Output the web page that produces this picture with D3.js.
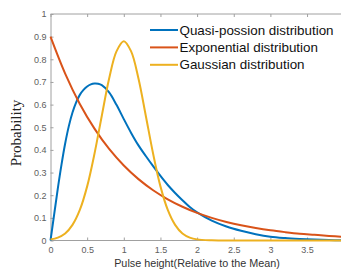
<!DOCTYPE html>
<html>
<head>
<meta charset="utf-8">
<script src="https://cdn.jsdelivr.net/npm/d3@7"></script>
<style>
html,body{margin:0;padding:0;background:#fff;}
svg{display:block;}
</style>
</head>
<body>
<svg id="chart" width="341" height="272"></svg>
<script>
// ---- data ----
const seriesNames = ["Quasi-possion distribution", "Exponential distribution", "Gaussian distribution"];
const seriesColors = ["#0072BD", "#D95319", "#EDB120"];

const quasiX = [0, 0.05, 0.1, 0.15, 0.2, 0.25, 0.3, 0.35, 0.4, 0.45, 0.5, 0.55, 0.6, 0.65, 0.7, 0.8, 0.9, 1.0, 1.1, 1.2, 1.3, 1.4, 1.5, 1.6, 1.7, 1.8, 1.9, 2.0, 2.2, 2.4, 2.6, 2.8, 3.0, 3.2, 3.4, 3.6, 3.8, 4.0];
const quasiY = [0, 0.115, 0.23, 0.335, 0.428, 0.505, 0.565, 0.61, 0.643, 0.665, 0.68, 0.689, 0.693, 0.692, 0.686, 0.654, 0.599, 0.536, 0.475, 0.42, 0.373, 0.328, 0.285, 0.245, 0.21, 0.178, 0.148, 0.124, 0.088, 0.062, 0.043, 0.028, 0.017, 0.011, 0.007, 0.004, 0.002, 0.001];

const expX = [0, 0.2, 0.4, 0.6, 0.8, 1.0, 1.2, 1.4, 1.6, 1.8, 2.0, 2.2, 2.4, 2.6, 2.8, 3.0, 3.2, 3.4, 3.6, 3.8, 4.0];
const expY = [0.900, 0.737, 0.603, 0.494, 0.404, 0.331, 0.271, 0.222, 0.182, 0.149, 0.122, 0.100, 0.082, 0.067, 0.055, 0.045, 0.037, 0.030, 0.025, 0.020, 0.016];

const gaussX = [0, 0.1, 0.2, 0.3, 0.4, 0.5, 0.6, 0.7, 0.8, 0.9, 1.0, 1.1, 1.2, 1.3, 1.4, 1.5, 1.6, 1.7, 1.8, 1.9, 2.0, 2.2, 2.5, 3.0, 3.5, 4.0];
const gaussY = [0.005, 0.013, 0.031, 0.069, 0.135, 0.239, 0.383, 0.551, 0.715, 0.835, 0.88, 0.835, 0.715, 0.551, 0.383, 0.239, 0.135, 0.069, 0.031, 0.013, 0.005, 0.001, 0, 0, 0, 0];

const xTicks = [0, 0.5, 1, 1.5, 2, 2.5, 3, 3.5];
const yTicks = [0, 0.1, 0.2, 0.3, 0.4, 0.5, 0.6, 0.7, 0.8, 0.9, 1];
const xLabel = "Pulse height(Relative to the Mean)";
const yLabel = "Probability";

// ---- layout ----
const svg = d3.select("#chart");
const mLeft = 50.5, mTop = 14, mBottom = 240.5;
const x = d3.scaleLinear().domain([0, 4]).range([mLeft, mLeft + 4 * 73.3]);
const y = d3.scaleLinear().domain([0, 1]).range([mBottom, mTop]);
const axisColor = "#a0a0a0";
const tickTextColor = "#606060";

// top border with inward ticks
const gTop = svg.append("g").attr("transform", `translate(0,${mTop})`)
  .call(d3.axisTop(x).tickValues(xTicks).tickSizeInner(-3).tickSizeOuter(0).tickFormat(""));

// bottom axis
const gX = svg.append("g").attr("transform", `translate(0,${mBottom})`)
  .call(d3.axisBottom(x).tickValues(xTicks).tickSizeInner(-3).tickSizeOuter(0).tickPadding(6.5)
    .tickFormat(d3.format("")));

// left axis
const gY = svg.append("g").attr("transform", `translate(${mLeft},0)`)
  .call(d3.axisLeft(y).tickValues(yTicks).tickSizeInner(-3).tickSizeOuter(0).tickPadding(4)
    .tickFormat(d3.format("")));

[gTop, gX, gY].forEach(g => {
  g.select(".domain").attr("stroke", axisColor).attr("stroke-width", 1);
  g.selectAll(".tick line").attr("stroke", axisColor);
  g.selectAll(".tick text").attr("fill", tickTextColor)
    .style("font-family", "'Liberation Sans', Arial, sans-serif").style("font-size", "9px");
});
gTop.select(".domain").attr("d", `M${mLeft},0H${x(4)}`);
gX.select(".domain").attr("d", `M${mLeft},0H${x(4)}`);

// lines
const line = d3.line().x(d => x(d[0])).y(d => y(d[1])).curve(d3.curveCatmullRom.alpha(0.5));
const series = [
  d3.zip(quasiX, quasiY),
  d3.zip(expX, expY),
  d3.zip(gaussX, gaussY)
];
series.forEach((s, i) => {
  svg.append("path").datum(s)
    .attr("d", line)
    .attr("fill", "none")
    .attr("stroke", seriesColors[i])
    .attr("stroke-width", 2)
    .attr("stroke-linejoin", "round");
});

// legend
const legend = svg.append("g").attr("transform", "translate(150,30)");
seriesNames.forEach((name, i) => {
  const gy = i * 17.4;
  legend.append("line").attr("x1", 0).attr("x2", 28).attr("y1", gy).attr("y2", gy)
    .attr("stroke", seriesColors[i]).attr("stroke-width", 2);
  legend.append("text").attr("x", 29.5).attr("y", gy).attr("dy", "0.35em")
    .style("font-family", "'Liberation Sans', Arial, sans-serif").style("font-size", "13.4px")
    .attr("fill", "#111").text(name);
});

// axis labels
svg.append("text").attr("x", 197).attr("y", 267)
  .attr("text-anchor", "middle")
  .style("font-family", "'Liberation Sans', Arial, sans-serif").style("font-size", "10.8px")
  .attr("fill", "#333").text(xLabel);

svg.append("text").attr("transform", "translate(21,133) rotate(-90)")
  .attr("text-anchor", "middle")
  .style("font-family", "'Liberation Serif', 'Times New Roman', serif").style("font-size", "15px")
  .attr("fill", "#222").text(yLabel);
</script>
</body>
</html>
